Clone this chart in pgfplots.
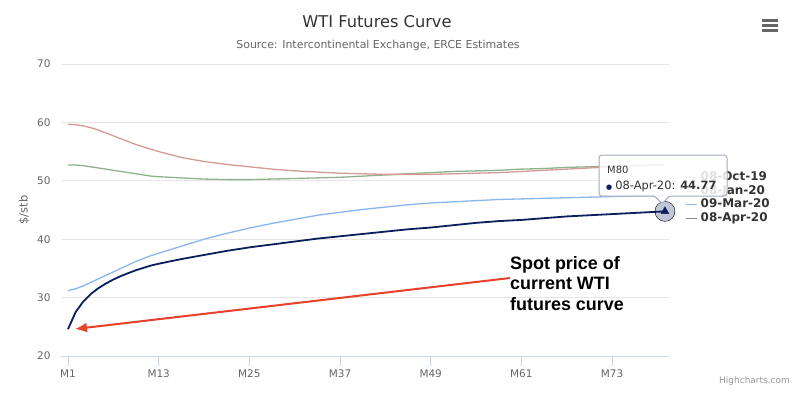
\documentclass[border=0pt]{standalone}
\usepackage{fontspec}
\setmainfont{DejaVu Sans}
\newfontfamily\annfont{Liberation Sans}
\usepackage{pgfplots}
\pgfplotsset{compat=1.18}
\usetikzlibrary{arrows.meta}
\definecolor{navyc}{HTML}{0B1F5C}
\definecolor{bluec}{HTML}{8AB6EE}
\definecolor{redc}{HTML}{D49A94}
\definecolor{greenc}{HTML}{8DB38D}
\definecolor{axisc}{HTML}{CCD6EB}
\definecolor{gridc}{HTML}{E6E6E6}
\definecolor{c333}{HTML}{333333}
\definecolor{c666}{HTML}{666666}
\definecolor{c999}{HTML}{999999}
\definecolor{arrowc}{HTML}{E8412B}
\definecolor{tipborder}{HTML}{A3ACC0}
\definecolor{legrey}{HTML}{8A8A8A}
\begin{document}
\begin{tikzpicture}[x=1bp,y=1bp]
\useasboundingbox[fill=white] (0,0) rectangle (800,397);
\begin{axis}[
  at={(61bp,41bp)}, anchor=south west,
  scale only axis, width=608bp, height=292bp,
  xmin=0.07, xmax=80.54, ymin=20, ymax=70,
  clip=false,
  axis x line*=bottom, axis y line*=left,
  y axis line style={draw=none},
  x axis line style={draw=axisc, line width=1bp},
  xtick={1,13,25,37,49,61,73},
  xticklabels={M1,M13,M25,M37,M49,M61,M73},
  ytick={20,30,40,50,60,70},
  tick align=outside, major tick length=10bp,
  xtick style={draw=axisc, line width=1bp},
  ytick style={draw=none},
  ymajorgrids, grid style={draw=gridc, line width=1bp},
  tick label style={font=\fontsize{10.5}{12}\selectfont, text=c666},
  /pgf/number format/assume math mode=true,
  yticklabel style={xshift=3bp},
  legend style={at={(1.026,0.634)}, anchor=north west, draw=none, fill=none,
    font=\bfseries\fontsize{12}{14}\selectfont, text=c333, inner sep=0pt, row sep=0pt,
    nodes={inner sep=0.5bp, text height=9bp, text depth=3.5bp}},
  legend cell align=left,
  legend image code/.code={\draw[#1] (0bp,0bp) -- (11bp,0bp); \path (14bp,0bp);},
]
\addlegendimage{greenc, line width=1.2bp}
\addlegendentry{08-Oct-19}
\addlegendimage{redc, line width=1.2bp}
\addlegendentry{08-Jan-20}
\addlegendimage{bluec, line width=1.2bp}
\addlegendentry{09-Mar-20}
\addlegendimage{legrey, line width=1.2bp}
\addlegendentry{08-Apr-20}

% 08-Oct-19
\addplot[greenc, line width=1.3bp, forget plot] coordinates {
(1,52.7)(2,52.7)(3,52.6)(4,52.4)(5,52.2)(6,52.0)(7,51.8)(8,51.6)(9,51.4)(10,51.2)
(11,51.0)(12,50.8)(13,50.7)(16,50.5)(19,50.3)(22,50.2)(25,50.2)(28,50.3)(31,50.4)
(34,50.5)(37,50.6)(40,50.8)(43,51.0)(46,51.2)(49,51.4)(52,51.6)(55,51.7)(58,51.8)
(61,52.0)(64,52.1)(67,52.3)(70,52.4)(73,52.5)(76,52.6)(80,52.7)};
% 08-Jan-20
\addplot[redc, line width=1.3bp, forget plot] coordinates {
(1,59.7)(2,59.6)(3,59.4)(4,59.1)(5,58.7)(6,58.2)(7,57.7)(8,57.2)(9,56.7)(10,56.2)
(11,55.8)(12,55.4)(13,55.0)(16,54.0)(19,53.3)(22,52.8)(25,52.4)(28,52.0)(31,51.7)
(34,51.5)(37,51.3)(40,51.2)(43,51.1)(46,51.1)(49,51.1)(52,51.2)(55,51.3)(58,51.4)
(61,51.6)(64,51.8)(67,52.0)(70,52.2)(73,52.4)(76,52.6)(80,52.8)};
% 09-Mar-20
\addplot[bluec, line width=1.3bp, forget plot] coordinates {
(1,31.2)(2,31.5)(3,32.0)(4,32.6)(5,33.2)(6,33.8)(7,34.4)(8,35.0)(9,35.6)(10,36.2)
(11,36.7)(12,37.2)(13,37.6)(16,38.8)(19,40.0)(22,41.0)(25,41.9)(28,42.7)(31,43.4)
(34,44.1)(37,44.6)(40,45.1)(43,45.5)(46,45.9)(49,46.2)(52,46.4)(55,46.6)(58,46.8)
(61,46.9)(64,47.0)(67,47.1)(70,47.2)(73,47.3)(76,47.4)(80,47.5)};
% 08-Apr-20
\addplot[navyc, line width=1.8bp, forget plot] coordinates {
(1,24.6)(2,27.5)(3,29.3)(4,30.6)(5,31.6)(6,32.4)(7,33.1)(8,33.7)(9,34.2)(10,34.7)
(11,35.1)(12,35.5)(13,35.8)(16,36.6)(19,37.3)(22,38.0)(25,38.6)(28,39.1)(31,39.6)
(34,40.1)(37,40.5)(40,40.9)(43,41.3)(46,41.7)(49,42.0)(52,42.4)(55,42.8)(58,43.1)
(61,43.3)(64,43.6)(67,43.9)(70,44.1)(73,44.3)(76,44.5)(79,44.7)(80,44.77)};
% hover marker
\addplot[only marks, mark=*, mark size=10bp, mark options={draw=none, fill=navyc, fill opacity=0.25}, forget plot] coordinates {(80,44.77)};
\addplot[only marks, mark=triangle*, mark size=4.5bp, mark options={draw=navyc, fill=navyc}, forget plot] coordinates {(80,44.77)};
\end{axis}

% titles
\node[font=\fontsize{16.3}{19}\selectfont, text=c333] at (377,375) {WTI Futures Curve};
\node[font=\fontsize{11}{13}\selectfont, text=c666] at (378,352) {Source: Intercontinental Exchange, ERCE Estimates};
\node[rotate=90, font=\fontsize{11.5}{13}\selectfont, text=c666] at (24,187) {\$/stb};

% menu icon
\foreach \yy in {376.5,371.5,366.5} \draw[line width=2.4bp, c666] (762,\yy) -- (778,\yy);

% credits
\node[anchor=east, font=\fontsize{9}{11}\selectfont, text=c999, inner sep=0] at (790,16) {Highcharts.com};

% tooltip
\draw[draw=tipborder, fill=white, fill opacity=0.85, line width=1bp, rounded corners=3bp]
  (599,201) -- (655,201) -- (662,193) -- (669,201) -- (727,201) -- (727,242) -- (599,242) -- cycle;
\node[anchor=west, font=\fontsize{10}{12}\selectfont, text=c333, inner sep=0] at (607,227) {M80};
\node[anchor=west, font=\fontsize{11.5}{14}\selectfont, text=c333, inner sep=0] at (606,211) {{\color{navyc}\fontsize{7}{8}\selectfont ●}\hspace{3bp}08-Apr-20: \textbf{44.77}};

% annotation
\draw[line width=2bp, arrowc, -{Latex[length=12bp,width=10bp]}] (510,119) -- (75,68);
\node[anchor=north west, align=left, inner sep=0, font=\annfont\bfseries\fontsize{18}{20.7}\selectfont] at (510,141) {Spot price of\\current WTI\\futures curve};
\end{tikzpicture}
\end{document}
